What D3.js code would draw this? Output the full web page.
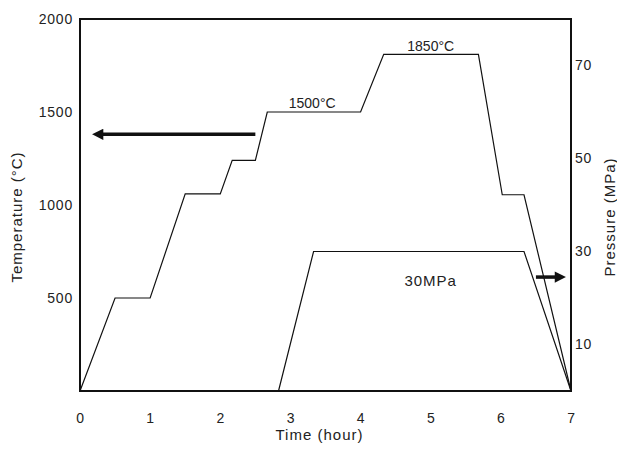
<!DOCTYPE html>
<html>
<head>
<meta charset="utf-8">
<script src="https://cdn.jsdelivr.net/npm/d3@7"></script>
<style>
  body { margin: 0; background: #fff; }
  text { font-family: "Liberation Sans", Arial, sans-serif; fill: #222; }
</style>
</head>
<body>
<svg id="chart" width="617" height="450"></svg>
<script>
// time (hour), temperature (C)
var tempTime = [0, 0.5, 1.0, 1.5, 2.0, 2.17, 2.5, 2.67, 4.0, 4.33, 5.68, 6.02, 6.33, 7];
var tempValue = [0, 500, 500, 1060, 1060, 1240, 1240, 1500, 1500, 1810, 1810, 1055, 1055, 0];
// time (hour), pressure (MPa)
var presTime = [2.83, 3.33, 6.33, 7];
var presValue = [0, 30, 30, 0];

var xTicks = [0, 1, 2, 3, 4, 5, 6, 7];
var tempTicks = [500, 1000, 1500, 2000];
var presTicks = [10, 30, 50, 70];

var svg = d3.select("#chart"),
    margin = {top: 19, right: 46, bottom: 59, left: 80},
    width = +svg.attr("width") - margin.left - margin.right,
    height = +svg.attr("height") - margin.top - margin.bottom;

var x = d3.scaleLinear().domain([0, 7]).range([0, width]);
var yT = d3.scaleLinear().domain([0, 2000]).range([height, 0]);
var yP = d3.scaleLinear().domain([0, 80]).range([height, 0]);

var g = svg.append("g")
    .attr("transform", "translate(" + margin.left + "," + margin.top + ")");

svg.append("defs").append("marker")
    .attr("id", "head")
    .attr("viewBox", "0 0 10 10")
    .attr("refX", 2).attr("refY", 5)
    .attr("markerWidth", 4.5).attr("markerHeight", 3.2)
    .attr("orient", "auto")
    .append("path")
    .attr("d", "M0,0L10,5L0,10z")
    .attr("fill", "#111");

// axes
var xaxis = g.append("g")
    .attr("class", "axis axis--x")
    .attr("transform", "translate(0," + height + ")")
    .call(d3.axisBottom(x).tickValues(xTicks).tickFormat(d3.format("d")).tickSize(0).tickPadding(22));

var yaxisL = g.append("g")
    .attr("class", "axis axis--yl")
    .call(d3.axisLeft(yT).tickValues(tempTicks).tickFormat(d3.format("d")).tickSize(0).tickPadding(7));

var yaxisR = g.append("g")
    .attr("class", "axis axis--yr")
    .attr("transform", "translate(" + width + ",0)")
    .call(d3.axisRight(yP).tickValues(presTicks).tickFormat(d3.format("d")).tickSize(0).tickPadding(4));

g.selectAll(".axis .domain").remove();
g.selectAll(".axis text")
    .attr("font-family", "Liberation Sans, Arial, sans-serif")
    .style("font-size", "14px")
    .style("letter-spacing", "0.8px")
    .attr("fill", "#222");

// frame
g.append("rect")
    .attr("x", 0).attr("y", 0)
    .attr("width", width).attr("height", height)
    .attr("fill", "none")
    .attr("stroke", "#111")
    .attr("stroke-width", 2);

var line = d3.line();

g.append("path")
    .datum(tempTime.map(function(d, i) { return [x(d), yT(tempValue[i])]; }))
    .attr("d", line)
    .attr("fill", "none")
    .attr("stroke", "#111")
    .attr("stroke-width", 1.2);

g.append("path")
    .datum(presTime.map(function(d, i) { return [x(d), yP(presValue[i])]; }))
    .attr("d", line)
    .attr("fill", "none")
    .attr("stroke", "#111")
    .attr("stroke-width", 1.2);

// arrows pointing at each axis
g.append("line")
    .attr("x1", x(2.5)).attr("x2", x(0.3))
    .attr("y1", yT(1380)).attr("y2", yT(1380))
    .attr("stroke", "#111").attr("stroke-width", 3.5)
    .attr("marker-end", "url(#head)");

g.append("line")
    .attr("x1", x(6.5)).attr("x2", x(6.8))
    .attr("y1", yP(24.5)).attr("y2", yP(24.5))
    .attr("stroke", "#111").attr("stroke-width", 3.5)
    .attr("marker-end", "url(#head)");

// annotations
g.append("text")
    .attr("x", x(3.31)).attr("y", yT(1520))
    .attr("text-anchor", "middle")
    .style("font-size", "14px")
    .text("1500°C");

g.append("text")
    .attr("x", x(5.0)).attr("y", yT(1830))
    .attr("text-anchor", "middle")
    .style("font-size", "14px")
    .text("1850°C");

g.append("text")
    .attr("x", x(5.0)).attr("y", yP(22.6))
    .attr("text-anchor", "middle")
    .style("font-size", "15px")
    .style("letter-spacing", "1px")
    .text("30MPa");

// axis titles
svg.append("text")
    .attr("x", margin.left + x(3.5) - 6).attr("y", 440)
    .attr("text-anchor", "middle")
    .style("font-size", "15px")
    .style("letter-spacing", "1px")
    .text("Time (hour)");

svg.append("text")
    .attr("transform", "translate(22," + (margin.top + yT(1000) + 12) + ") rotate(-90)")
    .attr("text-anchor", "middle")
    .style("font-size", "15px")
    .style("letter-spacing", "1px")
    .text("Temperature (°C)");

svg.append("text")
    .attr("transform", "translate(615," + (margin.top + yT(1000) + 12) + ") rotate(-90)")
    .attr("text-anchor", "middle")
    .style("font-size", "15px")
    .style("letter-spacing", "1px")
    .text("Pressure (MPa)");
</script>
</body>
</html>
